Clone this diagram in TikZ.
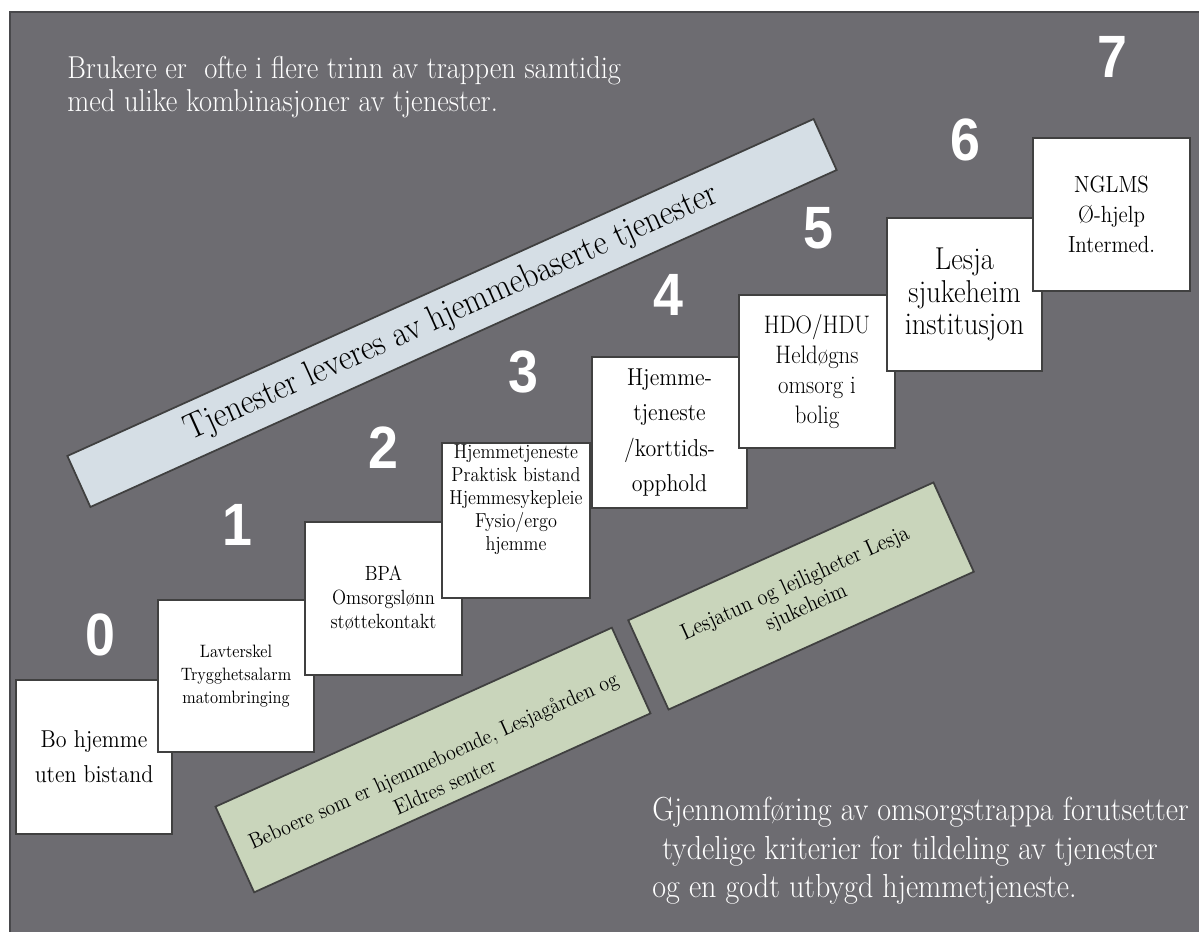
\documentclass[tikz,border=0pt]{standalone}
\usepackage{fontspec}
\setmainfont{Latin Modern Roman}[FakeStretch=0.9]
\newfontfamily\numfont[FakeStretch=0.9]{Liberation Sans}
\usetikzlibrary{calc}

\definecolor{slate}{RGB}{109,108,113}
\definecolor{frame}{RGB}{72,72,75}
\definecolor{boxline}{RGB}{64,64,64}
\definecolor{bandblue}{RGB}{213,222,229}
\definecolor{bandgreen}{RGB}{201,213,187}

\begin{document}
\begin{tikzpicture}[x=0.02cm, y=-0.02cm,
  stepbox/.style={draw=boxline, line width=1.2pt, fill=white, align=center, inner sep=1pt},
  stepnum/.style={text=white, inner sep=0pt, font=\numfont\bfseries\fontsize{34}{34}\selectfont},
  band/.style={draw=boxline, line width=1pt, rotate=24.3, align=center, inner sep=0pt},
  note/.style={text=white, align=left, anchor=west, inner sep=0pt}]

\useasboundingbox (0,0) rectangle (1199,932);
\fill[white] (0,0) rectangle (1199,932);
\draw[fill=slate, draw=frame, line width=1.2pt] (10,12) rectangle (1210,945);

\node[note, font=\fontsize{18}{19}\selectfont] (intro) at (67,87) {Brukere er~ ofte i flere trinn av trappen samtidig\\med ulike kombinasjoner av tjenester.};

\node[band, fill=bandblue, minimum width=16.38cm, minimum height=1.12cm, font=\fontsize{20.5}{20.5}\selectfont] (homeband) at (452,313) {Tjenester leveres av hjemmebaserte tjenester};

\node[stepbox, minimum width=3.12cm, minimum height=3.08cm, font=\fontsize{13.9}{20}\selectfont] (b0) at (94,757) {Bo hjemme\\uten bistand};
\node[stepbox, minimum width=3.12cm, minimum height=3.04cm, font=\fontsize{10.2}{13}\selectfont] (b1) at (236,676) {Lavterskel\\Trygghetsalarm\\matombringing};
\node[stepbox, minimum width=3.14cm, minimum height=3.06cm, font=\fontsize{11.7}{13.6}\selectfont] (b2) at (383.5,598.5) {BPA\\Omsorgslønn\\støttekontakt};
\node[stepbox, minimum width=2.96cm, minimum height=3.1cm] (b3) at (516,520.5) {};
\node[align=center, inner sep=0pt, font=\fontsize{11.5}{13}\selectfont] (b3text) at ([yshift=0.42cm]b3.center) {Hjemmetjeneste\\Praktisk bistand\\Hjemmesykepleie\\Fysio/ergo\\hjemme};
\node[stepbox, minimum width=3.1cm, minimum height=3.02cm, font=\fontsize{13.9}{20}\selectfont] (b4) at (669.5,432.5) {Hjemme-\\tjeneste\\/korttids-\\opphold};
\node[stepbox, minimum width=3.12cm, minimum height=3.06cm, font=\fontsize{14.4}{17}\selectfont] (b5) at (817,371.5) {HDO/HDU\\Heldøgns\\omsorg i\\bolig};
\node[stepbox, minimum width=3.1cm, minimum height=3.06cm, font=\fontsize{18}{18.5}\selectfont] (b6) at (964.5,294.5) {Lesja\\sjukeheim\\institusjon};
\node[stepbox, minimum width=3.14cm, minimum height=3.06cm, font=\fontsize{13.3}{17}\selectfont] (b7) at (1111.5,214.5) {NGLMS\\Ø-hjelp\\Intermed.};

\node[stepnum] (n0) at (100,635) {0};
\node[stepnum] (n1) at (237,525) {1};
\node[stepnum] (n2) at (383,448) {2};
\node[stepnum] (n3) at (523,372) {3};
\node[stepnum] (n4) at (668,295) {4};
\node[stepnum] (n5) at (818,228) {5};
\node[stepnum] (n6) at (965,140) {6};
\node[stepnum] (n7) at (1112,57) {7};

\node[band, fill=bandgreen, minimum width=8.7cm, minimum height=1.88cm] (residents) at (433,760) {};
\node[rotate=24.3, align=center, inner sep=0pt, font=\fontsize{12.5}{16}\selectfont] (residentstext) at ($(residents.center)!0.3!(residents.south)$) {Beboere som er hjemmeboende, Lesjagården og\\Eldres senter};
\node[band, fill=bandgreen, minimum width=6.7cm, minimum height=1.96cm, font=\fontsize{13}{15}\selectfont] (lesjatun) at (801,596) {Lesjatun og leiligheter Lesja\\sjukeheim};

\node[note, font=\fontsize{19}{22}\selectfont] (premise) at (652,851) {Gjennomføring av omsorgstrappa forutsetter\\\hspace*{0.3em}tydelige kriterier for tildeling av tjenester\\og en godt utbygd hjemmetjeneste.};
\end{tikzpicture}
\end{document}
